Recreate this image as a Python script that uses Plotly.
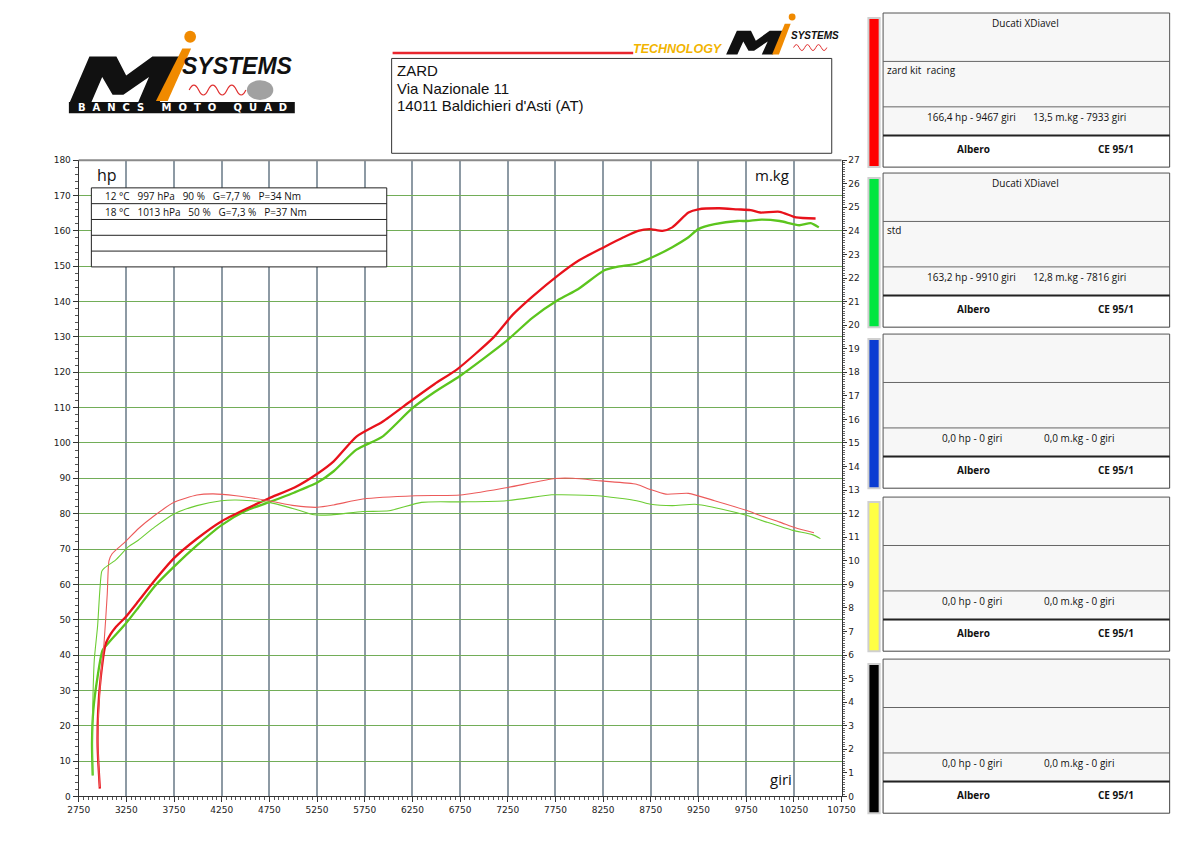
import plotly.graph_objects as go

# target picture is 1199x844; the page body keeps its 8px default margin,
# so the figure is drawn 16px smaller and coords are shifted by 8
W, H = 1199, 844
OFF = 8
FW, FH = W - 2 * OFF, H - 2 * OFF


def px(x):
    return (x - OFF) / FW


def py(y):
    return 1 - (y - OFF) / FH


# power curves (hp) - red = zard kit racing, green = std
rpm_hp_red = [2972, 2955, 2948, 2955, 2982, 3033, 3085, 3136, 3238, 3375, 3511, 3750,
              3990, 4246, 4502, 4741, 5014, 5253, 5424, 5663, 5936, 6244, 6483, 6722,
              7098, 7303, 7508, 7781, 7986, 8259, 8464, 8617, 8736, 8873, 8975, 9145,
              9248, 9467, 9658, 9795, 9897, 10102, 10273, 10478]
hp_red = [2.2, 10.0, 15.2, 24.5, 33.8, 43.1, 45.9, 47.8, 50.6, 55.2, 59.9, 67.4,
          72.9, 77.8, 81.3, 84.3, 87.4, 91.3, 94.8, 101.8, 106.0, 112.1, 116.7, 120.9,
          129.8, 136.3, 141.4, 147.5, 151.5, 155.4, 158.2, 160.0, 160.5, 160.0, 161.0, 165.2,
          166.1, 166.4, 166.1, 165.9, 165.2, 165.4, 163.8, 163.5]

rpm_hp_green = [2897, 2890, 2904, 2948, 3000, 3068, 3238, 3375, 3546, 3750, 3990, 4246,
                4502, 4741, 5014, 5253, 5424, 5663, 5936, 6244, 6483, 6756, 7234, 7508,
                7781, 7986, 8259, 8395, 8600, 8771, 8975, 9145, 9248, 9419, 9658, 9760,
                9910, 10102, 10307, 10427, 10512]
hp_green = [5.9, 15.2, 24.5, 33.8, 41.3, 43.6, 48.7, 53.4, 59.4, 65.0, 71.0, 76.7,
            80.8, 83.2, 86.0, 88.8, 92.0, 98.1, 101.8, 109.7, 114.4, 119.1, 128.8, 135.4,
            140.5, 143.5, 148.8, 149.8, 150.7, 152.6, 155.4, 158.2, 160.5, 161.9, 162.8, 162.8,
            163.2, 162.8, 161.6, 162.2, 161.0]

# torque curves (m.kg)
rpm_tq_red = [2970, 2950, 2958, 2982, 3016, 3050, 3068, 3101, 3238, 3375, 3546, 3750,
              3990, 4161, 4400, 4741, 5014, 5253, 5424, 5731, 6278, 6756, 7234, 7747,
              7933, 8225, 8600, 8736, 8907, 9145, 9419, 9760, 9897, 10102, 10273, 10461]
tq_red = [0.4, 2.3, 3.5, 5.1, 6.5, 8.6, 10.0, 10.3, 10.8, 11.36, 11.92, 12.48,
          12.79, 12.84, 12.76, 12.55, 12.34, 12.27, 12.37, 12.62, 12.76, 12.79, 13.1, 13.49,
          13.5, 13.39, 13.25, 13.04, 12.83, 12.86, 12.55, 12.13, 11.92, 11.64, 11.39, 11.19]

rpm_tq_green = [2897, 2893, 2897, 2914, 2948, 2992, 3016, 3136, 3273, 3375, 3546, 3750,
                3990, 4246, 4400, 4741, 5014, 5219, 5400, 5731, 6005, 6346, 6756, 7234,
                7713, 7816, 8191, 8600, 8736, 8975, 9214, 9487, 9760, 9965, 10239, 10444, 10529]
tq_green = [0.9, 2.3, 3.7, 5.8, 7.2, 9.55, 9.68, 10.03, 10.6, 10.87, 11.43, 11.99,
            12.34, 12.55, 12.58, 12.48, 12.2, 11.95, 11.95, 12.09, 12.12, 12.48, 12.5, 12.55,
            12.8, 12.8, 12.76, 12.55, 12.41, 12.34, 12.4, 12.2, 11.92, 11.64, 11.29, 11.11, 10.94]

x_ticks = list(range(2750, 10751, 500))

# test conditions box
cond_rows = ["12 °C   997 hPa   90 %   G=7,7 %   P=34 Nm",
             "18 °C   1013 hPa   50 %   G=7,3 %   P=37 Nm",
             "", "", ""]

address = ["ZARD", "Via Nazionale 11", "14011 Baldichieri d'Asti (AT)"]

# right hand run panels
panel_colors = ["#ff0000", "#00e640", "#0a3cd2", "#ffff44", "#000000"]
panel_model = ["Ducati XDiavel", "Ducati XDiavel", "", "", ""]
panel_note = ["zard kit  racing", "std", "", "", ""]
panel_hp = ["166,4 hp - 9467 giri", "163,2 hp - 9910 giri", "0,0 hp - 0 giri",
            "0,0 hp - 0 giri", "0,0 hp - 0 giri"]
panel_tq = ["13,5 m.kg - 7933 giri", "12,8 m.kg - 7816 giri", "0,0 m.kg - 0 giri",
            "0,0 m.kg - 0 giri", "0,0 m.kg - 0 giri"]
panel_shaft = ["Albero"] * 5
panel_norm = ["CE 95/1"] * 5

RED = "#e8121b"
GREEN = "#5cc51e"
ORANGE = "#f08a00"
TICKFONT = dict(family="DejaVu Sans", size=9, color="#222")
PANELFONT = dict(family="Open Sans", size=10, color="#111")
BOLDFONT = dict(family="Open Sans", size=10, color="#111")


def nb(s):
    return s.replace(" ", "\u00a0")


def poly_path(pts):
    d = "M " + " L ".join("{:.5f},{:.5f}".format(px(a), py(b)) for a, b in pts)
    return d + " Z"


def italic_m(x0, y_top, w, h, slant):
    # heavy slanted "M" of the Mi systems logo
    unit = [(0, 1), (0, 0), (0.3, 0), (0.5, 0.42), (0.7, 0), (1, 0), (1, 1),
            (0.76, 1), (0.76, 0.45), (0.56, 0.84), (0.44, 0.84), (0.24, 0.45), (0.24, 1)]
    return poly_path([(x0 + u * w + (1 - v) * slant, y_top + v * h) for u, v in unit])


def wave_path(x0, x1, yc, amp, periods):
    step = (x1 - x0) / (periods * 2)
    d = "M {:.5f},{:.5f}".format(px(x0), py(yc))
    for k in range(periods * 2):
        xa = x0 + step * k
        sign = -1 if k % 2 == 0 else 1
        d += " Q {:.5f},{:.5f} {:.5f},{:.5f}".format(
            px(xa + step / 2), py(yc + sign * amp * 2), px(xa + step), py(yc))
    return d


fig = go.Figure()

fig.add_trace(go.Scatter(x=rpm_tq_red, y=tq_red, yaxis="y2", mode="lines",
                         line=dict(color="#ec5a5a", width=1.1, shape="spline", smoothing=0.6)))
fig.add_trace(go.Scatter(x=rpm_tq_green, y=tq_green, yaxis="y2", mode="lines",
                         line=dict(color="#6ccc33", width=1.1, shape="spline", smoothing=0.6)))
fig.add_trace(go.Scatter(x=rpm_hp_green, y=hp_green, mode="lines",
                         line=dict(color=GREEN, width=2.3, shape="spline", smoothing=0.6)))
fig.add_trace(go.Scatter(x=rpm_hp_red, y=hp_red, mode="lines",
                         line=dict(color=RED, width=2.3, shape="spline", smoothing=0.6)))

shapes = []
ann = []

# top frame line of plot
shapes.append(dict(type="line", xref="paper", yref="paper", x0=px(69), x1=px(849),
                   y0=py(157), y1=py(157), line=dict(color="#8a8a8a", width=2)))

# conditions box
bx0, bx1, by0, row_h = 82, 384, 185, 16
shapes.append(dict(type="rect", xref="paper", yref="paper", x0=px(bx0), x1=px(bx1),
                   y0=py(by0), y1=py(by0 + row_h * len(cond_rows)),
                   line=dict(color="#222", width=1), fillcolor="white", layer="above"))
for i, txt in enumerate(cond_rows):
    if i > 0:
        shapes.append(dict(type="line", xref="paper", yref="paper", x0=px(bx0), x1=px(bx1),
                           y0=py(by0 + row_h * i), y1=py(by0 + row_h * i),
                           line=dict(color="#222", width=1)))
    if txt:
        ann.append(dict(x=px(94), y=py(by0 + row_h * i + 8), xref="paper", yref="paper",
                        text=nb(txt), showarrow=False, xanchor="left", yanchor="middle",
                        font=PANELFONT))

# axis unit labels
ann.append(dict(x=px(86), y=py(172), xref="paper", yref="paper", text="hp", showarrow=False,
                xanchor="left", yanchor="middle",
                font=dict(family="Open Sans", size=16, color="#111")))
ann.append(dict(x=px(778), y=py(172), xref="paper", yref="paper", text="m.kg", showarrow=False,
                xanchor="center", yanchor="middle",
                font=dict(family="Open Sans", size=15, color="#111")))
ann.append(dict(x=px(787), y=py(783), xref="paper", yref="paper", text="giri", showarrow=False,
                xanchor="center", yanchor="middle",
                font=dict(family="Open Sans", size=15, color="#111")))

# address box
shapes.append(dict(type="rect", xref="paper", yref="paper", x0=px(389), x1=px(839),
                   y0=py(54), y1=py(150), line=dict(color="#333", width=1)))
for i, txt in enumerate(address):
    ann.append(dict(x=px(392), y=py(66 + 18 * i), xref="paper", yref="paper", text=txt,
                    showarrow=False, xanchor="left", yanchor="middle",
                    font=dict(family="Liberation Sans", size=15, color="#111")))

# header red line + small logo
shapes.append(dict(type="line", xref="paper", yref="paper", x0=px(390), x1=px(636),
                   y0=py(48.5), y1=py(48.5), line=dict(color="#e8262e", width=2.5)))
ann.append(dict(x=px(682), y=py(44), xref="paper", yref="paper", text="<b><i>TECHNOLOGY</i></b>",
                showarrow=False, xanchor="center", yanchor="middle",
                font=dict(family="Liberation Sans", size=12.5, color="#f2b400")))
shapes.append(dict(type="path", xref="paper", yref="paper", path=italic_m(731, 26, 48, 24, 11),
                   fillcolor="#111", line=dict(width=0)))
shapes.append(dict(type="path", xref="paper", yref="paper",
                   path=poly_path([(778, 50), (785, 50), (797, 19), (791, 19)]),
                   fillcolor=ORANGE, line=dict(width=0)))
shapes.append(dict(type="circle", xref="paper", yref="paper", x0=px(795), x1=px(802),
                   y0=py(8.5), y1=py(15.5), fillcolor=ORANGE, line=dict(width=0)))
shapes.append(dict(type="path", xref="paper", yref="paper", path=wave_path(800, 834, 43, 3, 3),
                   line=dict(color="#e03030", width=1)))
ann.append(dict(x=px(822), y=py(31), xref="paper", yref="paper", text="<b><i>SYSTEMS</i></b>",
                showarrow=False, xanchor="center", yanchor="middle",
                font=dict(family="Liberation Sans", size=10, color="#111")))

# left logo
shapes.append(dict(type="path", xref="paper", yref="paper", path=italic_m(60, 52, 92, 46, 20),
                   fillcolor="#111", line=dict(width=0)))
shapes.append(dict(type="path", xref="paper", yref="paper",
                   path=poly_path([(148, 97), (160, 97), (184, 44), (175, 44)]),
                   fillcolor=ORANGE, line=dict(width=0)))
shapes.append(dict(type="circle", xref="paper", yref="paper", x0=px(177), x1=px(189),
                   y0=py(26), y1=py(38), fillcolor=ORANGE, line=dict(width=0)))
shapes.append(dict(type="path", xref="paper", yref="paper", path=wave_path(182, 240, 86, 5, 3),
                   line=dict(color="#e03030", width=1.2)))
shapes.append(dict(type="circle", xref="paper", yref="paper", x0=px(241), x1=px(268),
                   y0=py(76), y1=py(96), fillcolor="#8a8a8a", line=dict(width=0), opacity=0.8))
ann.append(dict(x=px(231), y=py(62), xref="paper", yref="paper", text="<b><i>SYSTEMS</i></b>",
                showarrow=False, xanchor="center", yanchor="middle",
                font=dict(family="Liberation Sans", size=23, color="#111")))
shapes.append(dict(type="rect", xref="paper", yref="paper", x0=px(59), x1=px(290),
                   y0=py(98), y1=py(109.5), fillcolor="#111", line=dict(width=0)))
ann.append(dict(x=px(175), y=py(104), xref="paper", yref="paper",
                text="<b>" + nb("B  A  N  C  S     M  O  T  O     Q  U  A  D") + "</b>",
                showarrow=False, xanchor="center", yanchor="middle",
                font=dict(family="DejaVu Sans", size=10, color="white")))

# run panels on the right
panel_tops = [8, 170, 333, 498, 662]
for i, top in enumerate(panel_tops):
    r1, r2, r3, bot = top + 49, top + 95, top + 124, top + 156
    shapes.append(dict(type="rect", xref="paper", yref="paper", x0=px(876.5), x1=px(888),
                       y0=py(top + 5), y1=py(bot), fillcolor=panel_colors[i],
                       line=dict(color="#cfcfcf", width=2)))
    shapes.append(dict(type="rect", xref="paper", yref="paper", x0=px(891.5), x1=px(1184.5),
                       y0=py(top), y1=py(r3), fillcolor="#f7f7f7",
                       line=dict(color="#555", width=1)))
    shapes.append(dict(type="rect", xref="paper", yref="paper", x0=px(891.5), x1=px(1184.5),
                       y0=py(r3), y1=py(bot), fillcolor="white",
                       line=dict(color="#444", width=1)))
    for yy in (r1, r2):
        shapes.append(dict(type="line", xref="paper", yref="paper", x0=px(891.5), x1=px(1184.5),
                           y0=py(yy), y1=py(yy), line=dict(color="#666", width=1)))
    shapes.append(dict(type="line", xref="paper", yref="paper", x0=px(891.5), x1=px(1184.5),
                       y0=py(r3), y1=py(r3), line=dict(color="#222", width=2)))
    if panel_model[i]:
        ann.append(dict(x=px(1037), y=py(top + 10), xref="paper", yref="paper",
                        text=panel_model[i], showarrow=False, xanchor="center",
                        yanchor="middle", font=PANELFONT))
    if panel_note[i]:
        ann.append(dict(x=px(893), y=py(top + 58), xref="paper", yref="paper",
                        text=nb(panel_note[i]), showarrow=False, xanchor="left",
                        yanchor="middle", font=PANELFONT))
    ann.append(dict(x=px(982), y=py(top + 105), xref="paper", yref="paper", text=nb(panel_hp[i]),
                    showarrow=False, xanchor="center", yanchor="middle", font=PANELFONT))
    ann.append(dict(x=px(1092), y=py(top + 105), xref="paper", yref="paper", text=nb(panel_tq[i]),
                    showarrow=False, xanchor="center", yanchor="middle", font=PANELFONT))
    ann.append(dict(x=px(984), y=py(top + 138), xref="paper", yref="paper",
                    text="<b>" + panel_shaft[i] + "</b>", showarrow=False, xanchor="center",
                    yanchor="middle", font=BOLDFONT))
    ann.append(dict(x=px(1130), y=py(top + 138), xref="paper", yref="paper",
                    text="<b>" + nb(panel_norm[i]) + "</b>", showarrow=False, xanchor="center",
                    yanchor="middle", font=BOLDFONT))

fig.update_layout(
    width=FW,
    height=FH,
    margin=dict(l=0, r=0, t=0, b=0),
    paper_bgcolor="white",
    plot_bgcolor="white",
    showlegend=False,
    shapes=shapes,
    annotations=ann,
    xaxis=dict(domain=[px(69), px(849)], range=[2750, 10750], tickvals=x_ticks,
               tickformat="d", ticks="outside", ticklen=5, tickcolor="#333", showline=True,
               linecolor="#333", linewidth=1, showgrid=True, gridcolor="#8d9aa4",
               gridwidth=1.5, zeroline=False, tickfont=TICKFONT,
               minor=dict(dtick=50, tick0=2750, ticks="outside", ticklen=3,
                          tickcolor="#555", showgrid=False)),
    yaxis=dict(domain=[py(801), py(157)], range=[0, 180], dtick=10, ticks="outside",
               ticklen=5, tickcolor="#333", showline=True, linecolor="#333", linewidth=1,
               showgrid=True, gridcolor="#72ad58", gridwidth=1.2, zeroline=False,
               tickfont=TICKFONT,
               minor=dict(dtick=2, ticks="outside", ticklen=3, tickcolor="#555",
                          showgrid=False)),
    yaxis2=dict(overlaying="y", side="right", anchor="x", range=[0, 27], dtick=1,
                ticks="outside", ticklen=4, tickcolor="#333", showline=True,
                linecolor="#333", linewidth=1, showgrid=False, zeroline=False,
                tickfont=TICKFONT,
                minor=dict(dtick=0.1, ticks="outside", ticklen=2, tickcolor="#666")),
)

fig.write_html("out.html", config={"displayModeBar": False})
